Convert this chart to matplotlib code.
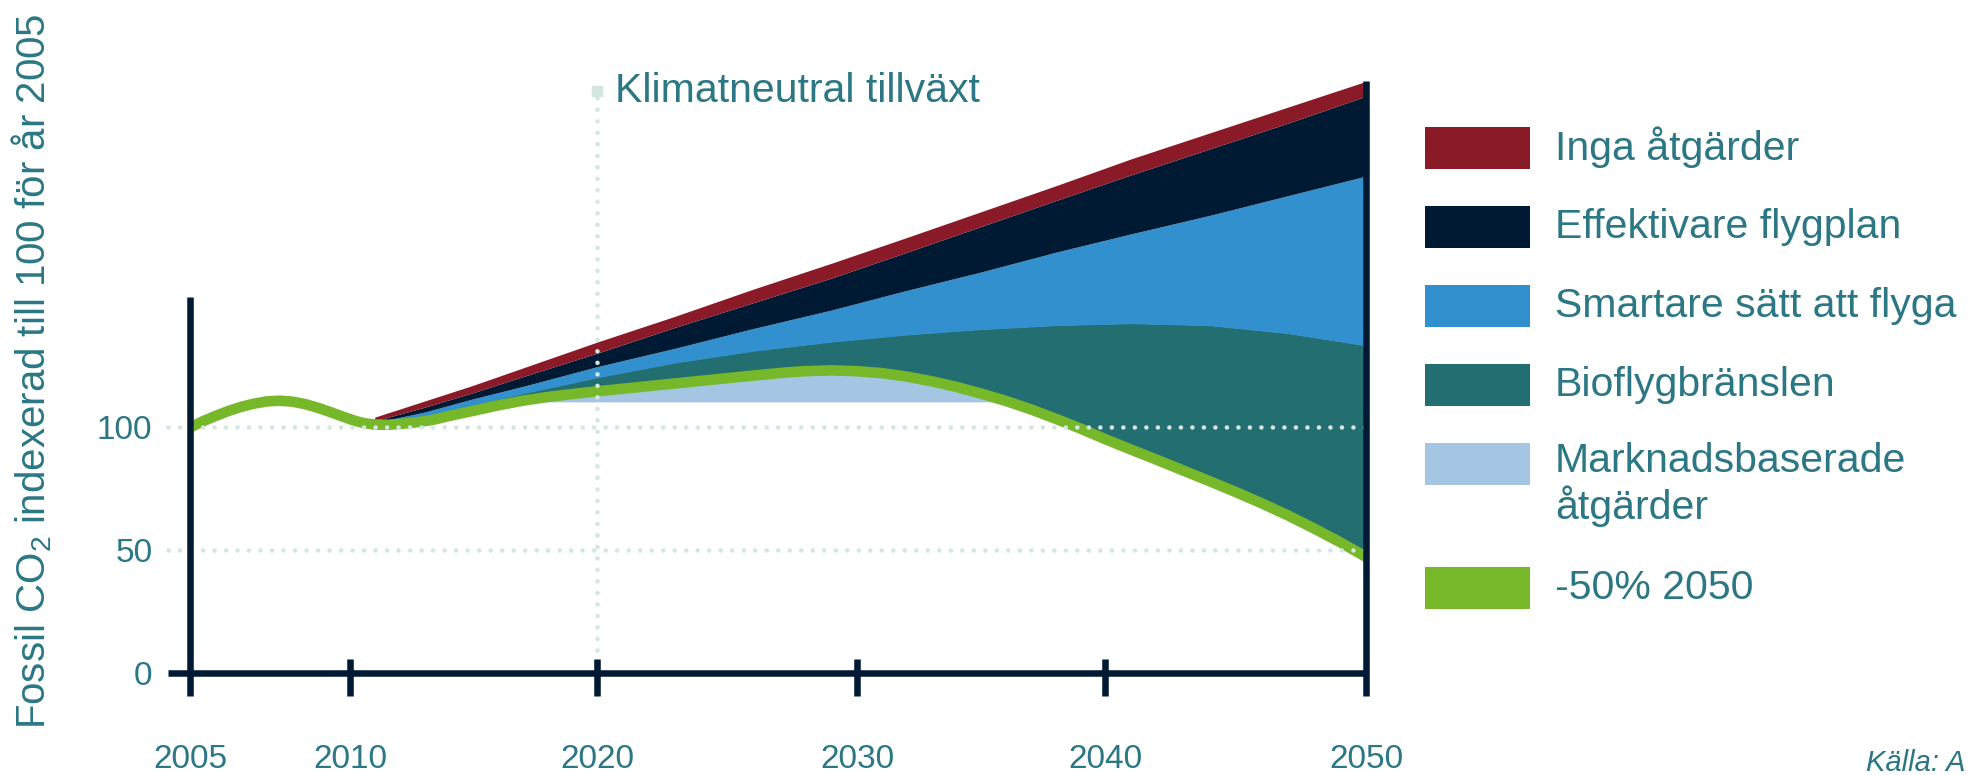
# ============================================
# Fossil CO2 från flyget – scenarier till 2050
# ============================================
import numpy as np
import matplotlib.pyplot as plt
from matplotlib.patches import Rectangle

plt.rcParams['font.family'] = ['Liberation Sans', 'DejaVu Sans']
plt.rcParams['mathtext.default'] = 'regular'

# ============================================
# 1. DATA
# ============================================
# -50% 2050 (grön linje)
green_years = [2005.0, 2005.4, 2005.8, 2006.2, 2006.6, 2007.0, 2007.4, 2007.8, 2008.2, 2008.6,
               2009.0, 2009.4, 2009.8, 2010.2, 2010.6, 2011.0, 2011.5, 2012.0, 2012.7, 2013.4,
               2014.2, 2015.0, 2016.0, 2017.0, 2018.0, 2019.0, 2020.0, 2021.5, 2023.0, 2024.5,
               2026.0, 2027.3, 2028.0, 2029.0, 2030.0, 2031.0, 2032.0, 2033.0, 2034.0, 2035.0,
               2036.0, 2037.0, 2038.0, 2039.0, 2040.0, 2041.0, 2042.0, 2043.0, 2044.0, 2045.0,
               2046.0, 2047.0, 2048.0, 2049.0, 2050.0]
green_vals = [99.8, 102.3, 104.5, 106.5, 108.2, 109.5, 110.4, 110.7, 110.3, 109.3,
              107.8, 106.0, 104.1, 102.5, 101.5, 101.0, 100.9, 101.2, 101.9, 103.0,
              104.9, 106.6, 108.8, 110.7, 112.2, 113.4, 114.5, 116.1, 117.7, 119.3,
              120.9, 122.2, 122.7, 123.0, 122.7, 121.9, 120.5, 118.6, 116.3, 113.6,
              110.6, 107.2, 103.4, 99.4, 95.1, 90.8, 86.6, 82.3, 78.0, 73.6,
              69.0, 64.1, 58.8, 53.2, 47.2]

# övre kanter för de staplade ytorna
scen_years = [2011, 2013, 2015, 2017, 2020, 2023, 2026, 2029, 2032, 2035, 2038, 2041, 2044, 2047, 2050]
red_top = [104, 110.5, 117, 124, 134.5, 145, 156, 166.5, 177, 187.5, 198, 209, 219.5, 230, 240.5]
black_top = [102.5, 108, 114, 120.5, 130, 140.5, 150.5, 160.5, 171, 181.5, 192, 202.5, 213, 223.5, 234.5]
blue_top = [101.8, 106, 111.5, 116.5, 124.5, 132, 140, 147.5, 155.5, 163, 171, 178.5, 186, 194, 202]
teal_top = [101.5, 104.5, 109, 113.5, 120, 126, 130.8, 134.5, 137.4, 139.6, 141.2, 142, 141.2, 138, 133]
market_level = 110

tick_years = [2005, 2010, 2020, 2030, 2040, 2050]
ytick_vals = [0, 50, 100]
grid_vals = [50, 100]
marker_year = 2020

legend_labels = ['Inga åtgärder', 'Effektivare flygplan', 'Smartare sätt att flyga',
                 'Bioflygbränslen', 'Marknadsbaserade\nåtgärder', '-50% 2050']

# ============================================
# 2. FÄRGER OCH LAYOUT
# ============================================
RED = '#8b1a28'
NAVY = '#011a33'
BLUE = '#3290ce'
TEAL = '#226e70'
LIGHT = '#a5c6e3'
GREEN = '#76b82a'
TEXT = '#2b7784'
GRID = '#d3e6e2'
legend_colors = [RED, NAVY, BLUE, TEAL, LIGHT, GREEN]

W, H = 1977, 775
# årtal -> pixel (tidsaxeln är inte helt linjär i originalet)
anchor_years = [1990, 2005, 2010, 2020, 2030, 2040, 2050, 2080]
anchor_pix = [-290, 190, 350, 597, 857, 1105, 1366, 2149]
Y0_PIX = 102        # y=0 i pixlar från nederkant
PX_PER_UNIT = 2.46


def fwd(x):
    return np.interp(x, anchor_years, anchor_pix)


def inv(p):
    return np.interp(p, anchor_pix, anchor_years)


fig = plt.figure(figsize=(W / 100, H / 100), dpi=100)
ax = fig.add_axes([0, 0, 1, 1])
ax.set_xscale('function', functions=(fwd, inv))
ax.set_xlim(inv(0), inv(W))
ax.set_ylim(-Y0_PIX / PX_PER_UNIT, (H - Y0_PIX) / PX_PER_UNIT)

# ============================================
# 3. YTOR OCH LINJE
# ============================================
gy = np.array(green_years)
gv = np.array(green_vals)

# marknadsbaserade åtgärder: mellan 110 och gröna linjen
ax.fill_between(gy, market_level, gv, where=gv > market_level, interpolate=True,
                color=LIGHT, lw=0, zorder=1)

# bioflygbränslen: från gröna linjen upp till teal-kanten
mask = gy >= scen_years[0]
poly_x = np.r_[scen_years, gy[mask][::-1]]
poly_y = np.r_[teal_top, gv[mask][::-1]]
ax.fill(poly_x, poly_y, color=TEAL, lw=0, zorder=1)

ax.fill_between(scen_years, teal_top, blue_top, color=BLUE, lw=0, zorder=1)
ax.fill_between(scen_years, blue_top, black_top, color=NAVY, lw=0, zorder=1)
ax.fill_between(scen_years, black_top, red_top, color=RED, lw=0, zorder=1)

ax.plot(gy, gv, color=GREEN, lw=7.6, solid_capstyle='butt',
        solid_joinstyle='round', zorder=3)

# ============================================
# 4. STÖDLINJER, AXLAR
# ============================================
dots = (0, (0.01, 2.5))
ax.hlines(grid_vals, 2004.3, 2050, colors=GRID, lw=3.3, linestyles=dots,
          capstyle='round', zorder=4)
ax.vlines(marker_year, 0, 235, colors=GRID, lw=3.3, linestyles=dots,
          capstyle='round', zorder=4)
ax.plot(marker_year, 236.6, 's', ms=7, color=GRID, zorder=4)
ax.text(2020.7, 236.6, 'Klimatneutral tillväxt', va='center', ha='left',
        fontsize=29.5, color=TEXT)

ax.spines['top'].set_visible(False)
ax.spines['left'].set_position(('data', 2005))
ax.spines['left'].set_bounds(-9.5, 152.8)
ax.spines['bottom'].set_position(('data', 0))
ax.spines['bottom'].set_bounds(2004.3, 2050)
ax.spines['right'].set_position(('data', 2050))
ax.spines['right'].set_bounds(-9.5, 240.5)
for s in ['left', 'bottom', 'right']:
    ax.spines[s].set_linewidth(4.7)
    ax.spines[s].set_color(NAVY)
    ax.spines[s].set_capstyle('butt')
    ax.spines[s].set_zorder(6)

ax.vlines(tick_years[1:-1], -9.5, 5.5, colors=NAVY, lw=4.7, zorder=6)

ax.set_xticks(tick_years)
ax.set_xticklabels([str(y) for y in tick_years])
ax.set_yticks(ytick_vals)
ax.set_yticklabels([str(v) for v in ytick_vals])
ax.tick_params(axis='x', length=0, pad=51, labelsize=24, labelcolor=TEXT)
ax.tick_params(axis='y', length=0, pad=27, labelsize=24, labelcolor=TEXT)
ax.minorticks_off()

fig.text(32 / W, (H - 371) / H, 'Fossil CO$_2$ indexerad till 100 för år 2005',
         rotation=90, ha='center', va='center', fontsize=29, color=TEXT)

# ============================================
# 5. TECKENFÖRKLARING
# ============================================
row_centers = [147.5, 227, 306, 385, 464, 588]
for label, color, yc in zip(legend_labels, legend_colors, row_centers):
    fig.add_artist(Rectangle((1425 / W, (H - yc - 21) / H), 105 / W, 42 / H,
                             transform=fig.transFigure, color=color, lw=0))
    if '\n' in label:
        fig.text(1555 / W, (H - yc + 22) / H, label, ha='left', va='top',
                 fontsize=29.5, color=TEXT, linespacing=1.15)
    else:
        fig.text(1555 / W, (H - yc) / H, label, ha='left', va='center',
                 fontsize=29.5, color=TEXT)

fig.text(1866 / W, 4 / H, 'Källa: A', ha='left', va='baseline',
         fontsize=21, style='italic', color=TEXT)

fig.savefig('out.png', dpi=100)
